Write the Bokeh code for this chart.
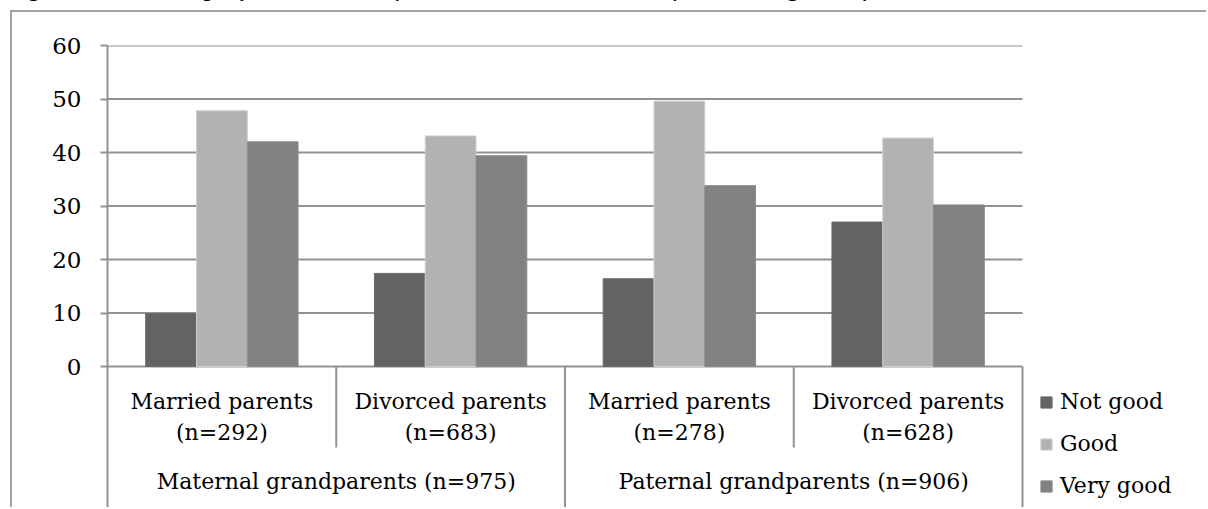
import numpy as np
from bokeh.plotting import figure
from bokeh.models import ColumnDataSource, FixedTicker, Legend, LegendItem, Label, Div
from bokeh.layouts import column
from bokeh.transform import dodge
from bokeh.embed import file_html
from bokeh.resources import INLINE

title = "Figure 2: Quality of relationships with maternal and paternal grandparents (%)"
categories = ["Married parents", "Divorced parents", "Married parents", "Divorced parents"]
cat_n = ["(n=292)", "(n=683)", "(n=278)", "(n=628)"]
groups = ["Maternal grandparents (n=975)", "Paternal grandparents (n=906)"]
series = ["Not good", "Good", "Very good"]
not_good = [9.9, 17.4, 16.4, 27.0]
good = [47.8, 43.1, 49.6, 42.7]
very_good = [42.0, 39.4, 33.8, 30.2]
y_ticks = [0, 10, 20, 30, 40, 50, 60]
y_label = "%"

colors = ["#636363", "#b2b2b2", "#828282"]
edge = ["#6a6a6a", "#d0d0d0", "#8a8a8a"]
FONT = "DejaVu Serif"
FS = "22px"
GRID = "#929292"

px_per_unit = 5.35
frame_h = 464
plot_w = 915          # width of the category area in pixels
frame_w = 1196 - 95   # full frame width (includes legend area)
y_start = 60 - frame_h / px_per_unit

n_cat = len(categories)
per_group = n_cat // len(groups)
centers = np.arange(n_cat) + 0.5
x_end = n_cat * frame_w / plot_w

p = figure(width=1196, height=497, x_range=(0, x_end), y_range=(y_start, 60),
           output_backend="svg", toolbar_location=None, x_axis_location=None,
           min_border_left=95, min_border_right=0, min_border_top=33, min_border_bottom=0,
           outline_line_color=None, background_fill_color="white", border_fill_color="white",
           margin=(0, 0, 0, 10),
           styles={"border-left": "2px solid #a3a3a3", "border-top": "2px solid #a3a3a3"})

# horizontal gridlines across the category area only
p.segment(x0=[0] * len(y_ticks), x1=[n_cat] * len(y_ticks), y0=y_ticks, y1=y_ticks,
          line_color=GRID, line_width=2)

src = ColumnDataSource(dict(x=centers, ng=not_good, g=good, vg=very_good))
bw = 0.222
renders = []
for off, col, fc, lc in zip([-bw, 0, bw], ["ng", "g", "vg"], colors, edge):
    r = p.vbar(x=dodge("x", off), top=col, width=bw, bottom=0, source=src,
               fill_color=fc, line_color=lc, line_width=1)
    renders.append(r)

# axis
ticker = FixedTicker(ticks=y_ticks)
p.yaxis.ticker = ticker
p.yaxis.axis_line_color = GRID
p.yaxis.axis_line_width = 2
p.yaxis.major_tick_line_color = GRID
p.yaxis.major_tick_line_width = 2
p.yaxis.major_tick_out = 7
p.yaxis.major_tick_in = 0
p.yaxis.minor_tick_line_color = None
p.yaxis.major_label_standoff = 19
p.yaxis.major_label_text_font = FONT
p.yaxis.major_label_text_font_size = "23px"
p.yaxis.major_label_text_color = "black"
p.ygrid.visible = False
p.xgrid.visible = False

p.add_layout(Label(x=0, y=y_ticks[3], text=y_label, x_offset=-64, text_align="right",
                   text_baseline="middle", text_font=FONT, text_font_size="22px",
                   text_font_style="bold", text_color="black"))

# category labels
lab = ColumnDataSource(dict(x=centers, c=categories, n=cat_n, y=[0] * n_cat))
p.text(x="x", y="y", text="c", source=lab, y_offset=35, text_align="center",
       text_baseline="alphabetic", text_font={"value": FONT}, text_font_size=FS, text_color="black")
p.text(x="x", y="y", text="n", source=lab, y_offset=66, text_align="center",
       text_baseline="alphabetic", text_font={"value": FONT}, text_font_size=FS, text_color="black")
gcenters = [per_group * (i + 0.5) for i in range(len(groups))]
glab = ColumnDataSource(dict(x=gcenters, t=groups, y=[0] * len(groups)))
p.text(x="x", y="y", text="t", source=glab, y_offset=115, text_align="center",
       text_baseline="alphabetic", text_font={"value": FONT}, text_font_size=FS, text_color="black")

# separators
short_x = [i for i in range(1, n_cat + 1) if i % per_group != 0]
long_x = [i for i in range(1, n_cat + 1) if i % per_group == 0]
short_end = -(447 - 366) / px_per_unit
p.segment(x0=short_x, x1=short_x, y0=[0] * len(short_x), y1=[short_end] * len(short_x),
          line_color=GRID, line_width=2)
p.segment(x0=long_x, x1=long_x, y0=[0] * len(long_x), y1=[y_start] * len(long_x),
          line_color=GRID, line_width=2)

legend = Legend(items=[LegendItem(label=s, renderers=[r]) for s, r in zip(series, renders)],
                location=(plot_w + 17, 11), border_line_color=None, background_fill_alpha=0,
                padding=0, margin=0, glyph_width=14, glyph_height=14, label_standoff=7,
                spacing=17, label_text_font=FONT, label_text_font_size="22px",
                label_text_color="black")
p.add_layout(legend)

div = Div(text=f'<div style="position:relative; top:-26px; left:3px; white-space:nowrap; '
               f'font-family:\'DejaVu Serif\'; font-style:italic; font-size:25px; line-height:28px;">{title}</div>',
          width=1208, height=10, styles={"overflow": "hidden"}, margin=0)

layout = column(div, p, spacing=0, margin=0)
open("out.html", "w").write(file_html(layout, INLINE))
